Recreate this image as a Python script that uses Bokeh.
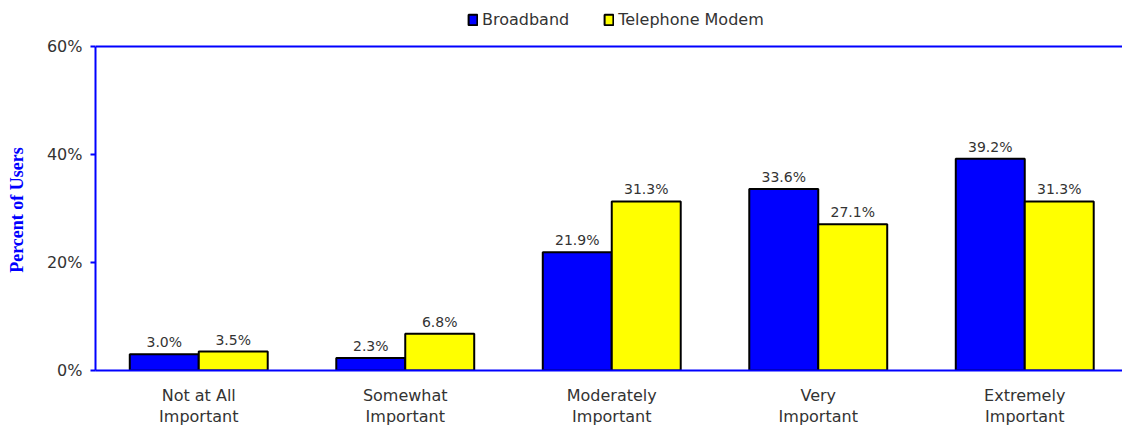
from bokeh.plotting import figure
from bokeh.models import (ColumnDataSource, Span, Legend, LegendItem, FixedTicker, LabelSet,
                          Range1d, LinearAxis)
from bokeh.transform import dodge
from bokeh.core.properties import value
from bokeh.embed import file_html
from bokeh.resources import INLINE

categories = ["Not at All Important", "Somewhat Important", "Moderately Important",
              "Very Important", "Extremely Important"]
label_line1 = ["Not at All", "Somewhat", "Moderately", "Very", "Extremely"]
label_line2 = ["Important", "Important", "Important", "Important", "Important"]
broadband = [3.0, 2.3, 21.9, 33.6, 39.2]
telephone_modem = [3.5, 6.8, 31.3, 27.1, 31.3]
y_ticks = [0, 20, 40, 60]
y_tick_labels = ["0%", "20%", "40%", "60%"]
series_names = ["Broadband", "Telephone Modem"]
y_title = "Percent of Users"

xpos = [i + 0.5 for i in range(len(categories))]

source = ColumnDataSource(data=dict(
    x=xpos,
    cat=categories,
    bb=broadband,
    tm=telephone_modem,
    bb_lbl=["%.1f%%" % v for v in broadband],
    tm_lbl=["%.1f%%" % v for v in telephone_modem],
))

TEXT = "#333333"
FONT = "DejaVu Sans"
BLUE = "#0000FF"

W, H = 1122, 428
FRAME_L, FRAME_T, FRAME_B = 95, 4, 370
CAT_W = 206.5
x_end = (W - FRAME_L) / CAT_W
y_end = 60 * (FRAME_B - FRAME_T) / (FRAME_B - 46)

p = figure(x_range=Range1d(0, x_end), y_range=Range1d(0, y_end), width=W, height=H,
           output_backend="svg", toolbar_location=None,
           min_border_left=FRAME_L, min_border_right=0, min_border_top=FRAME_T,
           min_border_bottom=H - FRAME_B)
p.outline_line_color = None
p.xgrid.grid_line_color = None
p.ygrid.grid_line_color = None

bw = 0.334
r1 = p.vbar(x=dodge("x", -bw / 2), top="bb", width=bw, source=source,
            fill_color=BLUE, line_color="black", line_width=2)
r2 = p.vbar(x=dodge("x", bw / 2), top="tm", width=bw, source=source,
            fill_color="#FFFF00", line_color="black", line_width=2)

for col, lbl, off in (("bb", "bb_lbl", -bw / 2), ("tm", "tm_lbl", bw / 2)):
    p.add_layout(LabelSet(x=dodge("x", off), y=col, text=lbl, source=source,
                          text_align="center", text_baseline="alphabetic", y_offset=7,
                          text_font=value(FONT), text_font_size="14px", text_color=TEXT))

p.add_layout(Span(location=60, dimension="width", line_color=BLUE, line_width=2))

# y axis
p.yaxis.bounds = (0, 60)
p.yaxis.ticker = FixedTicker(ticks=y_ticks)
p.yaxis.major_label_overrides = {t: l for t, l in zip(y_ticks, y_tick_labels)}
p.yaxis.minor_tick_line_color = None
p.yaxis.major_tick_out = 5
p.yaxis.major_tick_in = 0
p.yaxis.major_tick_line_color = BLUE
p.yaxis.major_tick_line_width = 2
p.yaxis.axis_line_color = BLUE
p.yaxis.axis_line_width = 2
p.yaxis.major_label_standoff = 8
p.yaxis.major_label_text_font = FONT
p.yaxis.major_label_text_font_size = "16px"
p.yaxis.major_label_text_color = TEXT
# trailing non-breaking spaces centre the title on the 0-60% span rather than the frame
p.yaxis.axis_label = y_title + "\u00a0" * 10
p.yaxis.axis_label_text_font = "Liberation Serif"
p.yaxis.axis_label_text_font_style = "bold"
p.yaxis.axis_label_text_font_size = "18px"
p.yaxis.axis_label_text_color = BLUE
p.yaxis.axis_label_standoff = 17

# x axis: two stacked axes give the two lines of each category label
xa = p.xaxis[0]
xa.ticker = FixedTicker(ticks=xpos)
xa.major_label_overrides = {x: l for x, l in zip(xpos, label_line1)}
xa.major_tick_line_color = None
xa.minor_tick_line_color = None
xa.major_tick_out = 0
xa.major_tick_in = 0
xa.axis_line_color = BLUE
xa.axis_line_width = 2
xa.major_label_standoff = 15
xa.major_label_text_font = FONT
xa.major_label_text_font_size = "16px"
xa.major_label_text_color = TEXT

xb = LinearAxis(ticker=FixedTicker(ticks=xpos),
                major_label_overrides={x: l for x, l in zip(xpos, label_line2)},
                axis_line_color=None, major_tick_line_color=None, minor_tick_line_color=None,
                major_tick_out=0, major_tick_in=0, major_label_standoff=-1,
                major_label_text_font=FONT, major_label_text_font_size="16px",
                major_label_text_color=TEXT)
p.add_layout(xb, "below")

legend = Legend(items=[LegendItem(label=series_names[0], renderers=[r1]),
                       LegendItem(label=series_names[1], renderers=[r2])],
                location=(372, 341), orientation="horizontal",
                glyph_width=11, glyph_height=13, label_standoff=4, spacing=34,
                padding=0, margin=0, border_line_color=None, background_fill_alpha=0,
                label_text_font=FONT, label_text_font_size="16px", label_text_color=TEXT,
                label_height=14)
p.add_layout(legend, "center")

open("out.html", "w").write(file_html(p, INLINE))
